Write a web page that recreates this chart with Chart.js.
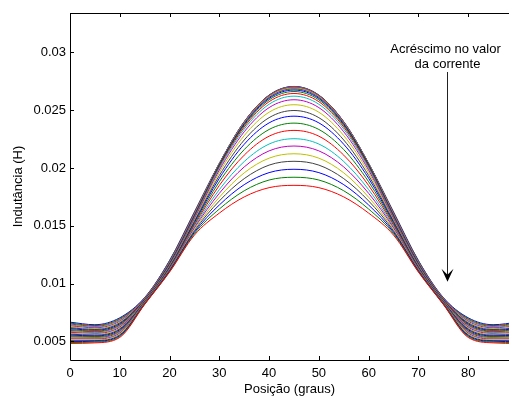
<!DOCTYPE html>
<html>
<head>
<meta charset="utf-8">
<script src="https://cdn.jsdelivr.net/npm/chart.js@4.4.1/dist/chart.umd.min.js"></script>
<style>
  html, body { margin: 0; padding: 0; background: #fff; }
  canvas { display: block; }
</style>
</head>
<body>
<canvas id="chart" width="509" height="397"></canvas>
<script>
// posição (graus)
const posicao = [0, 5, 10, 15, 20, 25, 30, 35, 40, 45, 50, 55, 60, 65, 70, 75, 80, 85, 90];

// indutância (H), uma curva por valor de corrente (i01 = menor corrente)
const i01 = [.00667,.00645,.00705,.00880,.01200,.01620,.02040,.02400,.02630,.02705,.02630,.02400,.02040,.01620,.01200,.00880,.00705,.00645,.00667];
const i02 = [.00659,.00638,.00698,.00877,.01196,.01616,.02039,.02399,.02629,.02704,.02629,.02399,.02039,.01616,.01196,.00877,.00698,.00638,.00659];
const i03 = [.00651,.00631,.00690,.00875,.01191,.01611,.02038,.02398,.02627,.02702,.02627,.02398,.02038,.01611,.01191,.00875,.00690,.00631,.00651];
const i04 = [.00643,.00625,.00683,.00872,.01187,.01606,.02037,.02395,.02624,.02699,.02624,.02395,.02037,.01606,.01187,.00872,.00683,.00625,.00643];
const i05 = [.00635,.00618,.00675,.00870,.01183,.01602,.02035,.02393,.02622,.02696,.02622,.02393,.02035,.01602,.01183,.00870,.00675,.00618,.00635];
const i06 = [.00627,.00611,.00668,.00867,.01178,.01597,.02033,.02389,.02617,.02691,.02617,.02389,.02033,.01597,.01178,.00867,.00668,.00611,.00627];
const i07 = [.00619,.00604,.00661,.00864,.01174,.01591,.02029,.02384,.02610,.02684,.02610,.02384,.02029,.01591,.01174,.00864,.00661,.00604,.00619];
const i08 = [.00611,.00597,.00653,.00862,.01170,.01586,.02024,.02376,.02601,.02674,.02601,.02376,.02024,.01586,.01170,.00862,.00653,.00597,.00611];
const i09 = [.00603,.00590,.00646,.00859,.01165,.01580,.02018,.02367,.02589,.02661,.02589,.02367,.02018,.01580,.01165,.00859,.00646,.00590,.00603];
const i10 = [.00595,.00584,.00639,.00857,.01161,.01574,.02009,.02354,.02573,.02644,.02573,.02354,.02009,.01574,.01161,.00857,.00639,.00584,.00595];
const i11 = [.00587,.00577,.00631,.00854,.01157,.01567,.01998,.02336,.02551,.02621,.02551,.02336,.01998,.01567,.01157,.00854,.00631,.00577,.00587];
const i12 = [.00579,.00570,.00624,.00851,.01152,.01559,.01982,.02313,.02522,.02590,.02522,.02313,.01982,.01559,.01152,.00851,.00624,.00570,.00579];
const i13 = [.00571,.00563,.00616,.00849,.01148,.01549,.01961,.02280,.02482,.02547,.02482,.02280,.01961,.01549,.01148,.00849,.00616,.00563,.00571];
const i14 = [.00563,.00556,.00609,.00846,.01143,.01539,.01935,.02242,.02435,.02497,.02435,.02242,.01935,.01539,.01143,.00846,.00609,.00556,.00563];
const i15 = [.00555,.00549,.00602,.00843,.01139,.01529,.01911,.02205,.02390,.02448,.02390,.02205,.01911,.01529,.01139,.00843,.00602,.00549,.00555];
const i16 = [.00547,.00543,.00594,.00841,.01135,.01518,.01881,.02159,.02333,.02388,.02333,.02159,.01881,.01518,.01135,.00841,.00594,.00543,.00547];
const i17 = [.00539,.00536,.00587,.00838,.01130,.01506,.01849,.02111,.02275,.02325,.02275,.02111,.01849,.01506,.01130,.00838,.00587,.00536,.00539];
const i18 = [.00531,.00529,.00579,.00836,.01126,.01493,.01813,.02056,.02207,.02253,.02207,.02056,.01813,.01493,.01126,.00836,.00579,.00529,.00531];
const i19 = [.00523,.00522,.00572,.00833,.01122,.01482,.01781,.02009,.02148,.02190,.02148,.02009,.01781,.01482,.01122,.00833,.00572,.00522,.00523];
const i20 = [.00515,.00515,.00565,.00830,.01117,.01469,.01747,.01958,.02085,.02123,.02085,.01958,.01747,.01469,.01117,.00830,.00565,.00515,.00515];
const i21 = [.00507,.00508,.00557,.00828,.01113,.01457,.01715,.01908,.02025,.02058,.02025,.01908,.01715,.01457,.01113,.00828,.00557,.00508,.00507];
const i22 = [.00499,.00502,.00550,.00825,.01109,.01445,.01680,.01856,.01960,.01989,.01960,.01856,.01680,.01445,.01109,.00825,.00550,.00502,.00499];
const i23 = [.00491,.00495,.00543,.00823,.01104,.01433,.01645,.01803,.01896,.01920,.01896,.01803,.01645,.01433,.01104,.00823,.00543,.00495,.00491];
const i24 = [.00483,.00488,.00535,.00820,.01100,.01420,.01610,.01750,.01830,.01850,.01830,.01750,.01610,.01420,.01100,.00820,.00535,.00488,.00483];

const xTicks = [0, 10, 20, 30, 40, 50, 60, 70, 80];
const yTicks = [0.005, 0.01, 0.015, 0.02, 0.025, 0.03];

const curvas = [i01, i02, i03, i04, i05, i06, i07, i08, i09, i10, i11, i12,
                i13, i14, i15, i16, i17, i18, i19, i20, i21, i22, i23, i24];
// ciclo de cores padrão do matlab
const cores = ['#0000ff', '#008000', '#ff0000', '#00bfbf', '#bf00bf', '#bfbf00', '#404040'];

const FONT = "'Liberation Sans', Arial, Helvetica, sans-serif";

const datasets = curvas.map((c, k) => ({
  data: c.map((v, j) => ({ x: posicao[j], y: v })),
  borderColor: cores[k % cores.length],
  borderWidth: 1,
  pointRadius: 0,
  fill: false,
  cubicInterpolationMode: 'monotone',
  order: curvas.length - k   // a última curva fica por cima
}));

// moldura com marcas para dentro + seta da anotação
const moldura = {
  id: 'moldura',
  afterDraw(chart) {
    const { ctx, chartArea: a, scales: { x, y } } = chart;
    ctx.save();
    ctx.strokeStyle = '#000';
    ctx.lineWidth = 1;
    ctx.beginPath();
    ctx.moveTo(a.left + 0.5, a.top + 0.5);
    ctx.lineTo(a.left + 0.5, a.bottom + 0.5);
    ctx.lineTo(a.right, a.bottom + 0.5);
    ctx.moveTo(a.left + 0.5, a.top + 0.5);
    ctx.lineTo(a.right, a.top + 0.5);
    xTicks.forEach(v => {
      const px = Math.round(x.getPixelForValue(v)) + 0.5;
      ctx.moveTo(px, a.bottom); ctx.lineTo(px, a.bottom - 4);
      ctx.moveTo(px, a.top); ctx.lineTo(px, a.top + 4);
    });
    yTicks.forEach(v => {
      const py = Math.round(y.getPixelForValue(v)) + 0.5;
      ctx.moveTo(a.left, py); ctx.lineTo(a.left + 4, py);
    });
    ctx.stroke();

    // anotação
    const ax = Math.round(x.getPixelForValue(75.7)) + 0.5;
    const yTopo = y.getPixelForValue(0.0283);
    const yPonta = y.getPixelForValue(0.01017);
    ctx.strokeStyle = '#222';
    ctx.beginPath();
    ctx.moveTo(ax, yTopo);
    ctx.lineTo(ax, yPonta - 6);
    ctx.stroke();
    ctx.fillStyle = '#000';
    ctx.beginPath();
    ctx.moveTo(ax, yPonta);
    ctx.lineTo(ax - 6, yPonta - 13);
    ctx.lineTo(ax, yPonta - 7);
    ctx.lineTo(ax + 6, yPonta - 13);
    ctx.closePath();
    ctx.fill();

    ctx.font = '13px ' + FONT;
    ctx.fillStyle = '#000';
    ctx.textAlign = 'center';
    ctx.textBaseline = 'middle';
    ctx.fillText('Acréscimo no valor', ax - 2, y.getPixelForValue(0.03026));
    ctx.fillText('da corrente', ax, y.getPixelForValue(0.02896));
    ctx.restore();
  }
};

new Chart(document.getElementById('chart'), {
  type: 'line',
  data: { datasets },
  options: {
    responsive: false,
    animation: false,
    devicePixelRatio: 1,
    layout: { padding: { top: 13, right: 0, left: 0, bottom: 0 } },
    plugins: { legend: { display: false }, tooltip: { enabled: false } },
    scales: {
      x: {
        type: 'linear',
        min: 0,
        max: 88.2,
        grid: { display: true, drawOnChartArea: false, drawTicks: false },
        border: { display: false },
        afterBuildTicks: s => { s.ticks = xTicks.map(v => ({ value: v })); },
        afterFit: s => { s.height = 37; },
        ticks: {
          padding: 6,
          color: '#000',
          font: { family: FONT, size: 13 },
          maxRotation: 0,
          callback: v => String(v)
        },
        title: {
          display: true,
          text: 'Posição (graus)',
          color: '#000',
          font: { family: FONT, size: 13 },
          padding: { top: 0, bottom: 0 }
        }
      },
      y: {
        type: 'linear',
        min: 0.0034,
        max: 0.0334,
        grid: { display: true, drawOnChartArea: false, drawTicks: false },
        border: { display: false },
        afterBuildTicks: s => { s.ticks = yTicks.map(v => ({ value: v })); },
        afterFit: s => { s.width = 70; },
        ticks: {
          padding: 4,
          color: '#000',
          font: { family: FONT, size: 13 },
          callback: v => String(+v.toFixed(3))
        },
        title: {
          display: true,
          text: 'Indutância (H)',
          color: '#000',
          font: { family: FONT, size: 13 },
          padding: { top: 11, bottom: 0 }
        }
      }
    }
  },
  plugins: [moldura]
});
</script>
</body>
</html>
